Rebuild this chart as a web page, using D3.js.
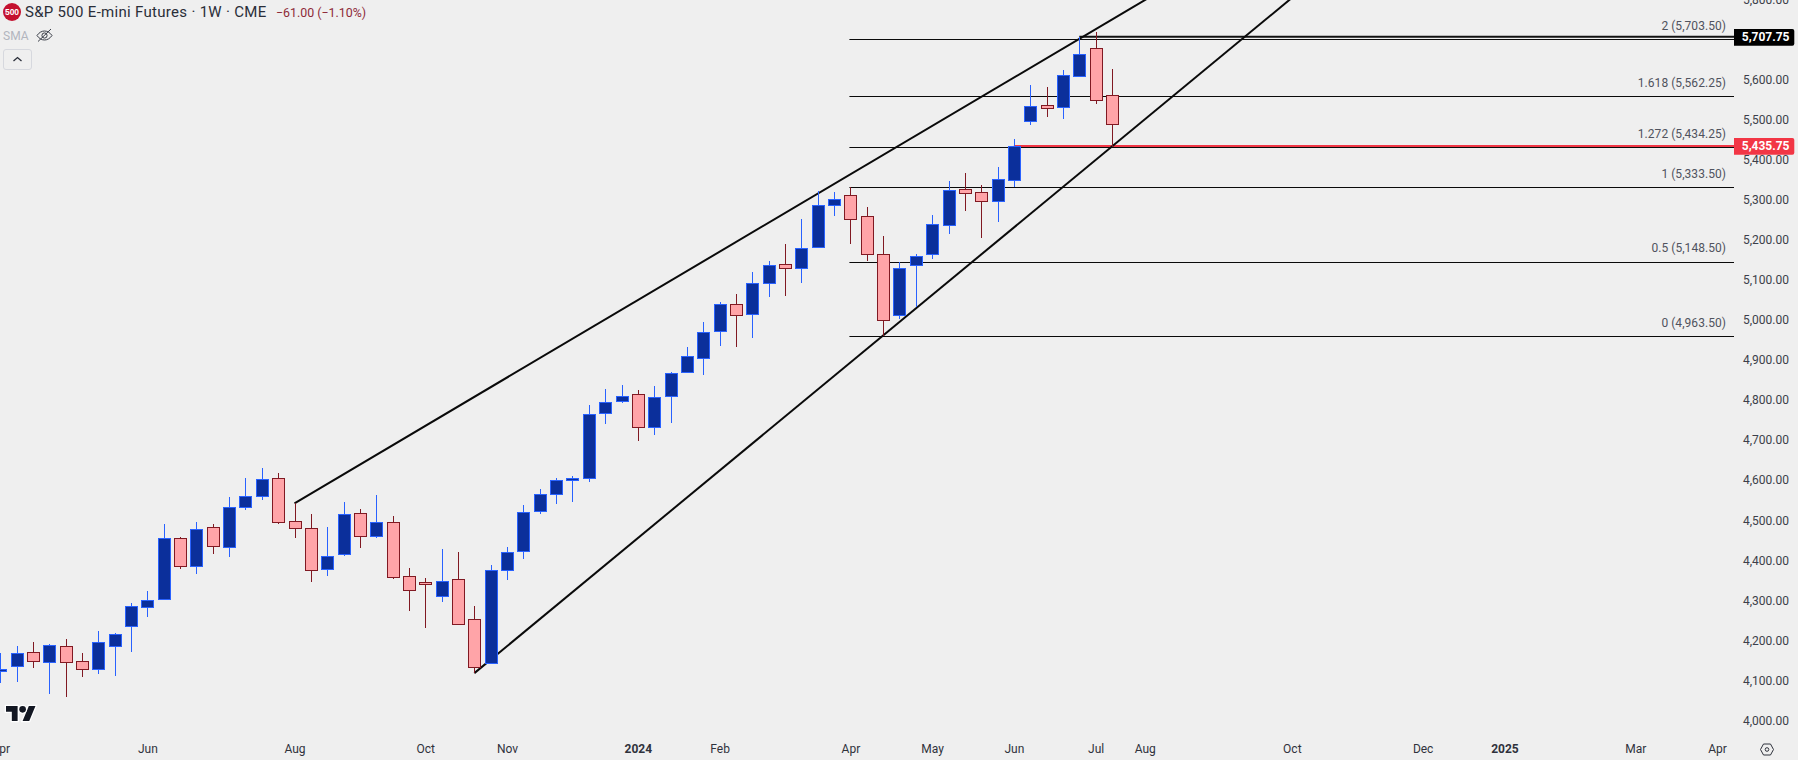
<!DOCTYPE html>
<html><head><meta charset="utf-8">
<script src="https://cdn.jsdelivr.net/npm/d3@7"></script>
<style>
html,body{margin:0;padding:0;background:#efefef;overflow:hidden}
svg{display:block;font-family:Roboto,sans-serif}
</style></head><body>
<svg id="c" width="1798" height="760"></svg>
<script>
const open_ = [4127,4138,4174,4148,4189,4152,4132,4188,4239,4286,4306,4459,4388,4486,4435,4536,4563,4608,4501,4484,4381,4419,4521,4464,4499,4364,4349,4314,4356,4256,4147,4379,4426,4525,4568,4602,4608,4771,4801,4818,4736,4813,4873,4908,4975,5043,5018,5095,5143,5133,5185,5290,5315,5262,5168,5015,5140,5168,5240,5330,5322,5300,5352,5500,5540,5535,5612,5682,5564];
const high_ = [4171,4190,4200,4195,4207,4171,4227,4222,4297,4327,4494,4462,4499,4494,4562,4609,4634,4622,4546,4519,4487,4549,4532,4567,4514,4384,4359,4432,4424,4290,4392,4437,4542,4582,4609,4614,4791,4831,4841,4829,4839,4874,4936,4999,5048,5068,5123,5151,5193,5256,5325,5323,5335,5285,5212,5148,5168,5266,5351,5371,5340,5385,5455,5590,5585,5628,5709,5722,5630];
const low_  = [4098,4101,4136,4070,4063,4113,4121,4116,4175,4263,4306,4383,4369,4419,4413,4529,4554,4494,4459,4349,4364,4414,4434,4459,4357,4277,4235,4300,4244,4122,4147,4355,4408,4520,4545,4549,4600,4745,4797,4702,4717,4747,4873,4867,4939,4937,4959,5062,5064,5097,5185,5264,5194,5152,4963,5007,5037,5157,5219,5276,5207,5249,5335,5491,5511,5504,5612,5543,5436];
const close_= [4132,4171,4152,4191,4148,4132,4199,4219,4289,4304,4459,4388,4481,4438,4536,4563,4606,4499,4484,4379,4414,4518,4464,4499,4361,4329,4344,4351,4244,4137,4379,4424,4524,4568,4603,4607,4768,4798,4813,4736,4811,4870,4913,4973,5043,5015,5095,5140,5133,5183,5290,5305,5255,5168,5003,5133,5163,5242,5327,5320,5300,5355,5437,5537,5532,5614,5667,5552,5492];

const priceTicks = [4000,4100,4200,4300,4400,4500,4600,4700,4800,4900,5000,5100,5200,5300,5400,5500,5600,5800];
const timeIdx    = [0,9,18,26,31,39,44,52,57,62,67,70,79,87,92,100,105];
const timeLabels = ["Apr","Jun","Aug","Oct","Nov","2024","Feb","Apr","May","Jun","Jul","Aug","Oct","Dec","2025","Mar","Apr"];
const boldLabels = ["2024","2025"];

const fibRatios = ["2","1.618","1.272","1","0.5","0"];
const fibPrices = [5703.5,5562.25,5434.25,5333.5,5148.5,4963.5];
const fibStartIdx = 52;

const upperTrendIdx = [18,71];
const upperTrendPrice = [4546,5826];
const lowerTrendIdx = [29,81];
const lowerTrendPrice = [4122,5875];

const lastPrice = 5435.75, highLine = 5707.75;
const lastStartIdx = 62, highStartIdx = 66;

const BG="#efefef", UP="#0b2f9b", UPB="#2962ff", DN="#ffa4a8", DNB="#801922";
const PLOT_R = 1734;

const svg = d3.select("#c");
const x = d3.scaleLinear().domain([0,105]).range([0.2,0.2+105*16.35]);
const y = d3.scaleLinear().domain([4000,5800]).range([722,722-1800*0.4006]);
const n = open_.length;
const idx = d3.range(n);

svg.append("rect").attr("width",1798).attr("height",760).attr("fill",BG);
svg.append("defs").append("clipPath").attr("id","plot").append("rect")
  .attr("x",0).attr("y",0).attr("width",PLOT_R).attr("height",735);
const plot = svg.append("g").attr("clip-path","url(#plot)");

// fib levels
const fibY = d => Math.floor(y(d)+0.15)+0.5;
plot.append("g").selectAll("line").data(fibPrices).join("line")
  .attr("x1",x(fibStartIdx)-1).attr("x2",PLOT_R)
  .attr("y1",fibY).attr("y2",fibY)
  .attr("stroke","#0a0a0a").attr("stroke-width",1);

// price lines
plot.append("line").attr("x1",x(lastStartIdx)).attr("x2",PLOT_R)
  .attr("y1",y(lastPrice)-0.8).attr("y2",y(lastPrice)-0.8).attr("stroke","#f23645").attr("stroke-width",2);
plot.append("line").attr("x1",x(highStartIdx)).attr("x2",PLOT_R)
  .attr("y1",y(highLine)-1.2).attr("y2",y(highLine)-1.2).attr("stroke","#111").attr("stroke-width",2);

// trendlines
const tl = d3.line().x(d=>x(d[0])).y(d=>y(d[1]));
plot.append("path").attr("d",tl(d3.zip(upperTrendIdx,upperTrendPrice))).attr("fill","none").attr("stroke","#0a0a0a").attr("stroke-width",2);
plot.append("path").attr("d",tl(d3.zip(lowerTrendIdx,lowerTrendPrice))).attr("fill","none").attr("stroke","#0a0a0a").attr("stroke-width",2);

// candles
const snap = v => Math.round(v-0.5)+0.5;
const g = plot.append("g").selectAll("g").data(idx).join("g");
g.append("rect").attr("shape-rendering","crispEdges")
  .attr("x",i=>Math.round(x(i))).attr("width",1)
  .attr("y",i=>y(high_[i])).attr("height",i=>y(low_[i])-y(high_[i]))
  .attr("fill",i=>close_[i]>=open_[i]?UPB:DNB);
g.append("rect")
  .attr("x",i=>Math.round(x(i))-5.5).attr("width",12)
  .attr("y",i=>snap(y(Math.max(open_[i],close_[i]))))
  .attr("height",i=>Math.max(1,snap(y(Math.min(open_[i],close_[i])))-snap(y(Math.max(open_[i],close_[i])))))
  .attr("fill",i=>close_[i]>=open_[i]?UP:DN)
  .attr("stroke",i=>close_[i]>=open_[i]?UPB:DNB).attr("stroke-width",1);

// fib labels
svg.append("g").selectAll("text").data(fibPrices).join("text")
  .attr("x",1726).attr("y",d=>y(d)-9.5).attr("text-anchor","end")
  .attr("font-size",12).attr("letter-spacing",0.05).attr("fill","#50535e")
  .text((d,i)=>`${fibRatios[i]} (${d3.format(",.2f")(d)})`);

// price axis
const ay = svg.append("g").attr("transform",`translate(${PLOT_R},-1.5)`)
  .call(d3.axisRight(y).tickValues(priceTicks).tickSize(0).tickFormat(d3.format(",.2f")));
ay.select(".domain").remove();
ay.selectAll("text").attr("x",55).attr("text-anchor","end").attr("font-size",12)
  .attr("font-family","Roboto,sans-serif").attr("fill","#3c3f4a");

// time axis
const ax = svg.append("g").attr("transform","translate(0,735)")
  .call(d3.axisBottom(x).tickValues(timeIdx).tickSize(0).tickFormat((d,i)=>timeLabels[i]));
ax.select(".domain").remove();
ax.selectAll("text").attr("y",9).attr("dy","0.71em").attr("font-size",12)
  .attr("font-family","Roboto,sans-serif").attr("fill","#2f323c")
  .attr("font-weight",(d,i)=>boldLabels.includes(timeLabels[i])?700:400);

// price tags
function tag(price,fill){
  const cy=y(price)-0.5;
  const t=svg.append("g");
  t.append("path").attr("fill",fill)
   .attr("d",`M${PLOT_R} ${cy-8.3}H1792.3a2 2 0 0 1 2 2V${cy+6.3}a2 2 0 0 1 -2 2H${PLOT_R}Z`);
  t.append("text").attr("x",1789.5).attr("y",cy+3.9).attr("text-anchor","end")
   .attr("font-size",12).attr("font-weight",700).attr("fill","#fff").text(d3.format(",.2f")(price));
}
tag(highLine,"#000");
tag(lastPrice,"#f23645");

// legend
svg.append("circle").attr("cx",12).attr("cy",12).attr("r",9).attr("fill","#c4112f");
svg.append("text").attr("x",12).attr("y",15).attr("text-anchor","middle").attr("font-size",8.5).attr("font-weight",700)
  .attr("fill","#fff").attr("font-family","'Liberation Sans',sans-serif").text("500");
svg.append("text").attr("x",25).attr("y",17).attr("font-size",15).attr("letter-spacing",0.3).attr("fill","#2a2e39")
  .text("S&P 500 E-mini Futures · 1W · CME");
svg.append("text").attr("x",276).attr("y",17).attr("font-size",12.4).attr("fill","#8e2b38")
  .text("−61.00 (−1.10%)");
svg.append("text").attr("x",3).attr("y",40).attr("font-size",12).attr("fill","#b2b5be").text("SMA");
const eye=svg.append("g").attr("fill","none").attr("stroke","#3a3e48").attr("stroke-width",1);
eye.append("path").attr("d","M37 35.5c4-6 11-6 15 0c-4 6-11 6-15 0z");
eye.append("circle").attr("cx",44.5).attr("cy",35.5).attr("r",2.6);
eye.append("path").attr("d","M38 41.5L51 29");
svg.append("rect").attr("x",3.5).attr("y",49.5).attr("width",28).attr("height",20).attr("rx",2.5)
  .attr("fill","none").attr("stroke","#d6d8de");
svg.append("path").attr("d","M13.5 61l4-3.5l4 3.5").attr("fill","none").attr("stroke","#2a2e39").attr("stroke-width",1.3);

// watermark logo
const logo=svg.append("g").attr("transform","translate(6,702.7) scale(0.83)");
logo.append("path").attr("d","M14 22H7V11H0V4h14v18zM28 22h-8l7.5-18h8L28 22z").attr("fill","#131722")
  .attr("stroke","#fff").attr("stroke-width",3).attr("paint-order","stroke");
logo.append("circle").attr("cx",20).attr("cy",8).attr("r",4).attr("fill","#131722")
  .attr("stroke","#fff").attr("stroke-width",3).attr("paint-order","stroke");

// settings icon
const s=svg.append("g").attr("fill","none").attr("stroke","#2f323c").attr("stroke-width",1);
s.append("path").attr("d","M1760.5 749.5l3-5.5h7l3 5.5l-3 5.5h-7z");
s.append("circle").attr("cx",1767).attr("cy",749.5).attr("r",1.8);
</script>
</body></html>
